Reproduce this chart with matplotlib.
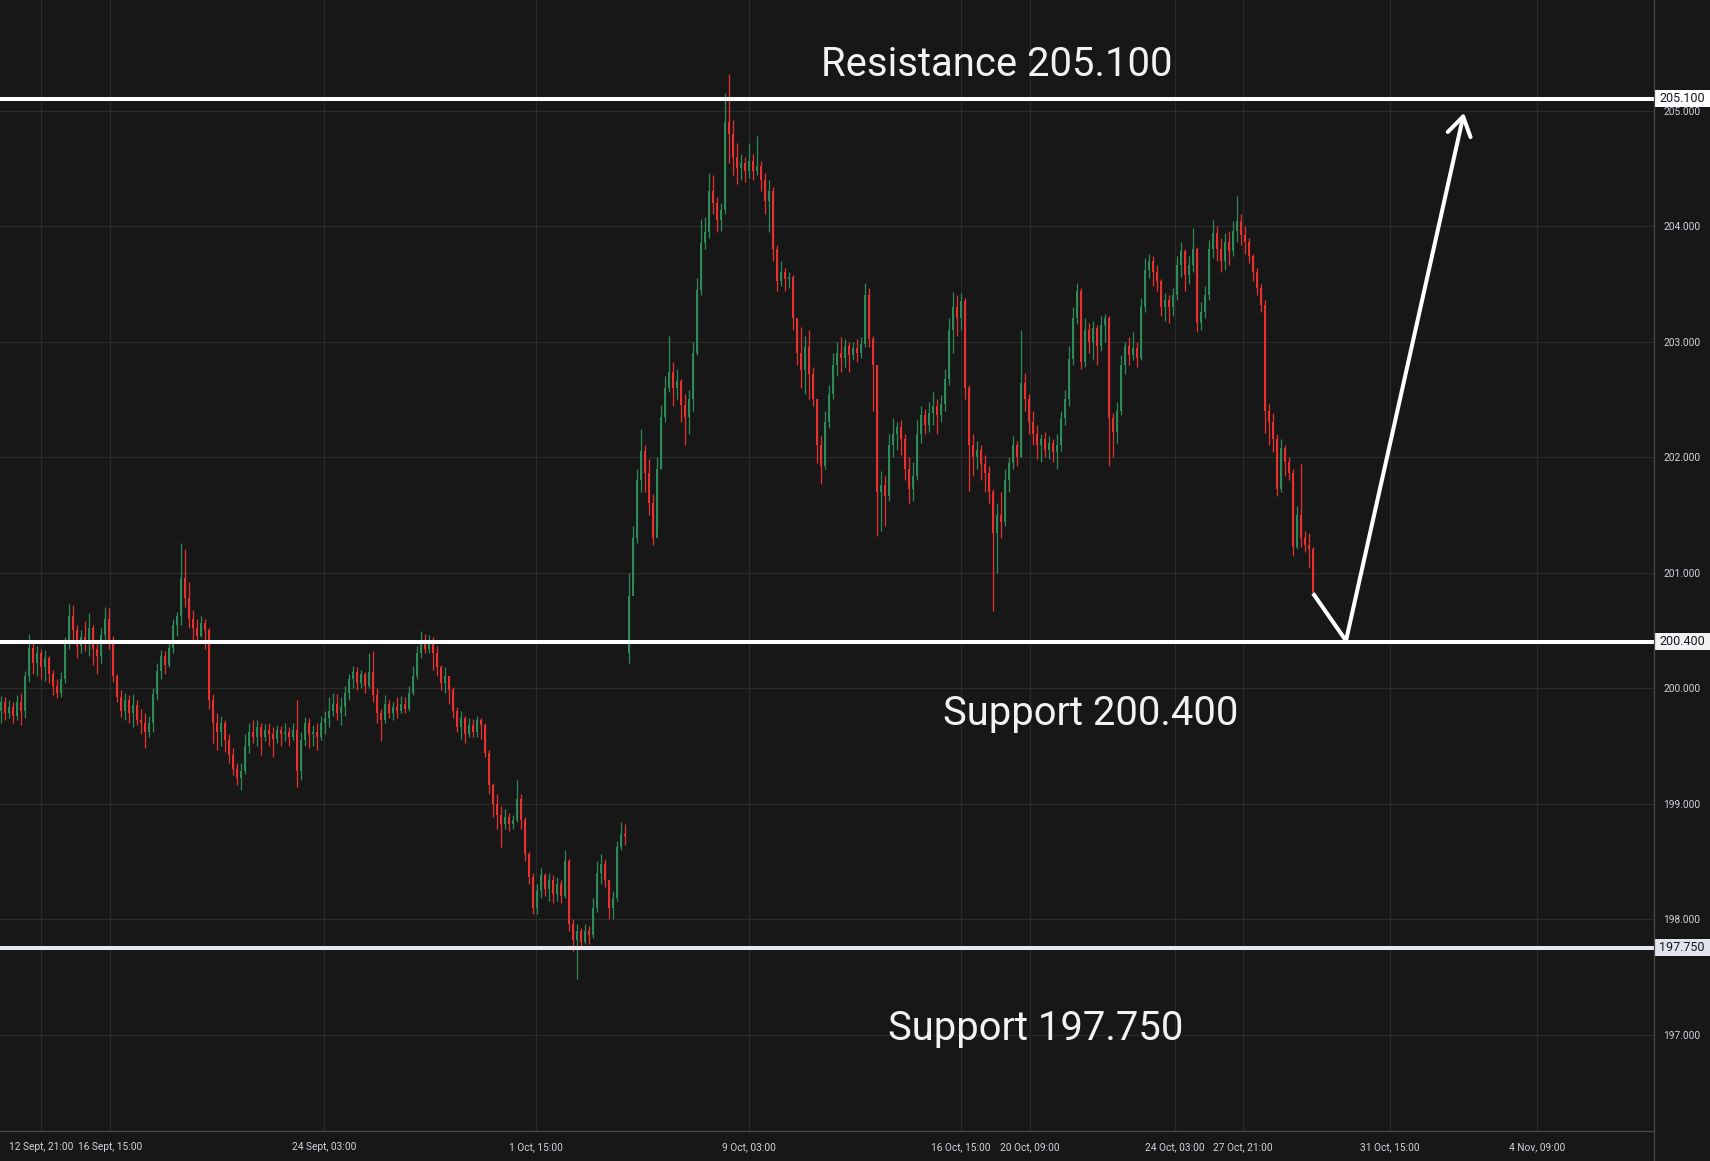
import matplotlib
matplotlib.use("Agg")
import matplotlib.pyplot as plt
from matplotlib.patches import Rectangle, FancyArrowPatch
from matplotlib.lines import Line2D
from matplotlib.transforms import blended_transform_factory
import numpy as np

# ---------------- data (2h candles) ----------------
first_open = 199.80
gap_bar = 157          # weekend gap bar
gap_open = 200.30

closes = [
    199.88, 199.78, 199.84, 199.76, 199.88, 199.80, 200.10, 200.35, 200.22, 200.30,
    200.18, 200.26, 200.12, 200.02, 199.96, 200.08, 200.38, 200.62, 200.50, 200.36,
    200.44, 200.40, 200.52, 200.34, 200.28, 200.46, 200.60, 200.42, 200.10, 199.92,
    199.80, 199.90, 199.78, 199.85, 199.72, 199.70, 199.62, 199.70, 199.95, 200.15,
    200.28, 200.20, 200.35, 200.55, 200.62, 200.95, 200.78, 200.60, 200.52, 200.45,
    200.56, 200.50, 199.90, 199.70, 199.62, 199.70, 199.55, 199.42, 199.30, 199.22,
    199.28, 199.50, 199.62, 199.58, 199.66, 199.58, 199.64, 199.60, 199.56, 199.64,
    199.60, 199.62, 199.58, 199.64, 199.28, 199.55, 199.70, 199.60, 199.62, 199.58,
    199.70, 199.74, 199.80, 199.86, 199.78, 199.84, 199.96, 200.08, 200.14, 200.04,
    200.12, 200.02, 200.14, 199.94, 199.78, 199.72, 199.86, 199.78, 199.84, 199.80,
    199.86, 199.82, 199.96, 200.10, 200.30, 200.42, 200.34, 200.40, 200.30, 200.18,
    200.04, 200.10, 199.98, 199.80, 199.66, 199.74, 199.60, 199.68, 199.62, 199.72,
    199.68, 199.44, 199.16, 199.00, 198.90, 198.82, 198.88, 198.82, 198.86, 199.04,
    198.86, 198.56, 198.36, 198.10, 198.24, 198.38, 198.26, 198.34, 198.22, 198.30,
    198.20, 198.50, 197.96, 197.82, 197.90, 197.80, 197.90, 197.86, 198.10, 198.40,
    198.48, 198.34, 198.10, 198.18, 198.62, 198.74, 198.72, 200.80, 201.30, 201.80,
    202.05, 201.86, 201.60, 201.30, 201.90, 202.35, 202.60, 202.74, 202.60, 202.66,
    202.45, 202.35, 202.50, 202.90, 203.45, 203.85, 203.95, 204.30, 204.20, 204.05,
    204.14, 204.90, 204.80, 204.60, 204.50, 204.55, 204.48, 204.56, 204.48, 204.52,
    204.40, 204.22, 204.30, 203.80, 203.52, 203.60, 203.54, 203.56, 203.20, 202.90,
    202.75, 202.95, 202.72, 202.50, 202.10, 201.92, 202.30, 202.55, 202.80, 202.90,
    202.86, 202.96, 202.88, 202.94, 202.90, 202.98, 203.40, 203.02, 202.80, 201.70,
    201.76, 201.66, 202.10, 202.20, 202.26, 202.16, 201.90, 201.72, 201.84, 202.20,
    202.36, 202.28, 202.38, 202.44, 202.36, 202.46, 202.68, 203.10, 203.30, 203.20,
    203.35, 202.60, 202.10, 202.00, 202.06, 201.94, 201.86, 201.70, 201.34, 201.50,
    201.44, 201.80, 201.95, 202.10, 202.00, 202.64, 202.50, 202.30, 202.20, 202.10,
    202.16, 202.06, 202.12, 202.04, 202.10, 202.34, 202.50, 202.85, 203.20, 203.44,
    202.82, 203.10, 203.00, 203.12, 202.96, 203.14, 203.20, 202.34, 202.22, 202.40,
    202.80, 202.96, 202.88, 202.94, 202.86, 203.30, 203.62, 203.70, 203.60, 203.52,
    203.30, 203.36, 203.30, 203.40, 203.66, 203.78, 203.58, 203.66, 203.80, 203.16,
    203.26, 203.40, 203.80, 203.94, 203.80, 203.70, 203.86, 203.78, 203.96, 204.04,
    203.92, 203.86, 203.74, 203.60, 203.46, 203.32, 202.40, 202.30, 202.16, 201.72,
    202.08, 201.96, 201.86, 201.22, 201.50, 201.30, 201.24, 201.20, 200.82,
]

highs = [
    199.93, 199.92, 199.90, 199.88, 199.94, 199.96, 200.15, 200.47, 200.40, 200.36,
    200.34, 200.33, 200.28, 200.16, 200.08, 200.14, 200.44, 200.73, 200.72, 200.55,
    200.50, 200.58, 200.65, 200.55, 200.40, 200.52, 200.70, 200.69, 200.45, 200.12,
    199.98, 199.96, 199.94, 199.95, 199.90, 199.82, 199.78, 199.76, 200.00, 200.22,
    200.33, 200.32, 200.40, 200.60, 200.66, 201.26, 201.20, 200.92, 200.68, 200.60,
    200.62, 200.60, 200.52, 199.95, 199.78, 199.76, 199.72, 199.60, 199.48, 199.35,
    199.35, 199.60, 199.70, 199.72, 199.72, 199.70, 199.69, 199.70, 199.66, 199.68,
    199.67, 199.70, 199.66, 199.70, 199.90, 199.62, 199.75, 199.74, 199.68, 199.70,
    199.76, 199.80, 199.92, 199.96, 199.95, 199.92, 200.02, 200.12, 200.19, 200.18,
    200.16, 200.14, 200.30, 200.32, 200.00, 199.82, 199.94, 199.90, 199.88, 199.92,
    199.93, 199.92, 200.02, 200.19, 200.36, 200.49, 200.47, 200.46, 200.44, 200.36,
    200.20, 200.18, 200.10, 200.01, 199.84, 199.80, 199.76, 199.74, 199.73, 199.76,
    199.74, 199.70, 199.46, 199.18, 199.08, 198.98, 198.95, 198.92, 198.90, 199.20,
    199.08, 198.88, 198.58, 198.40, 198.30, 198.44, 198.40, 198.40, 198.38, 198.36,
    198.34, 198.60, 198.52, 198.00, 197.96, 197.92, 197.96, 197.94, 198.18, 198.50,
    198.56, 198.52, 198.34, 198.24, 198.68, 198.84, 198.82, 201.00, 201.40, 201.90,
    202.24, 202.10, 201.98, 201.68, 202.00, 202.45, 202.70, 203.05, 202.82, 202.76,
    202.68, 202.55, 202.58, 203.00, 203.55, 204.06, 204.08, 204.46, 204.44, 204.25,
    204.20, 205.15, 205.32, 204.92, 204.72, 204.62, 204.60, 204.72, 204.62, 204.78,
    204.56, 204.46, 204.40, 204.34, 203.84, 203.70, 203.64, 203.60, 203.58, 203.20,
    203.13, 203.05, 203.10, 202.78, 202.50, 202.18, 202.40, 202.62, 202.90, 203.00,
    203.04, 203.02, 203.00, 203.00, 203.02, 203.04, 203.51, 203.46, 203.05, 202.80,
    201.88, 201.84, 202.20, 202.34, 202.30, 202.32, 202.20, 202.00, 201.96, 202.32,
    202.44, 202.42, 202.48, 202.56, 202.50, 202.54, 202.76, 203.20, 203.43, 203.40,
    203.42, 203.38, 202.62, 202.20, 202.14, 202.10, 202.02, 201.92, 201.72, 201.60,
    201.70, 201.90, 202.00, 202.18, 202.14, 203.10, 202.73, 202.55, 202.40, 202.28,
    202.20, 202.22, 202.18, 202.16, 202.20, 202.40, 202.58, 202.96, 203.30, 203.51,
    203.46, 203.20, 203.16, 203.18, 203.14, 203.22, 203.24, 203.22, 202.38, 202.48,
    202.88, 203.00, 203.04, 203.08, 203.00, 203.38, 203.72, 203.76, 203.74, 203.66,
    203.54, 203.42, 203.40, 203.46, 203.74, 203.86, 203.80, 203.74, 203.98, 203.82,
    203.34, 203.48, 203.88, 204.05, 204.00, 203.90, 203.94, 203.96, 204.04, 204.26,
    204.10, 204.00, 203.90, 203.76, 203.64, 203.50, 203.36, 202.46, 202.38, 202.20,
    202.16, 202.10, 202.00, 201.90, 201.58, 201.94, 201.36, 201.34, 201.22,
]

lows = [
    199.70, 199.72, 199.74, 199.70, 199.72, 199.68, 199.74, 200.05, 200.12, 200.10,
    200.08, 200.06, 200.04, 199.94, 199.91, 199.92, 200.04, 200.34, 200.40, 200.26,
    200.30, 200.32, 200.28, 200.20, 200.12, 200.22, 200.40, 200.34, 200.05, 199.88,
    199.75, 199.72, 199.70, 199.66, 199.68, 199.60, 199.48, 199.58, 199.62, 199.90,
    200.08, 200.12, 200.18, 200.30, 200.45, 200.55, 200.70, 200.52, 200.40, 200.38,
    200.44, 200.34, 199.82, 199.52, 199.46, 199.50, 199.45, 199.35, 199.25, 199.16,
    199.12, 199.26, 199.44, 199.52, 199.50, 199.42, 199.54, 199.50, 199.40, 199.52,
    199.50, 199.54, 199.50, 199.55, 199.14, 199.20, 199.50, 199.48, 199.50, 199.46,
    199.55, 199.60, 199.66, 199.76, 199.72, 199.68, 199.76, 199.90, 200.00, 199.98,
    200.00, 199.96, 200.00, 199.88, 199.70, 199.54, 199.70, 199.74, 199.72, 199.74,
    199.78, 199.78, 199.80, 199.94, 200.08, 200.26, 200.30, 200.30, 200.16, 200.10,
    199.98, 199.96, 199.86, 199.74, 199.62, 199.56, 199.52, 199.58, 199.58, 199.58,
    199.56, 199.40, 199.08, 198.88, 198.78, 198.62, 198.78, 198.76, 198.78, 198.84,
    198.78, 198.50, 198.30, 198.04, 198.04, 198.18, 198.20, 198.16, 198.14, 198.16,
    198.14, 198.18, 197.90, 197.72, 197.48, 197.74, 197.78, 197.78, 197.84, 198.06,
    198.30, 198.28, 198.00, 198.00, 198.16, 198.60, 198.64, 200.22, 200.90, 201.26,
    201.70, 201.70, 201.50, 201.24, 201.40, 201.90, 202.30, 202.56, 202.44, 202.50,
    202.30, 202.10, 202.20, 202.40, 202.88, 203.40, 203.80, 203.90, 204.10, 203.95,
    203.96, 204.10, 204.55, 204.44, 204.36, 204.40, 204.38, 204.42, 204.40, 204.44,
    204.30, 204.10, 203.95, 203.70, 203.44, 203.48, 203.44, 203.46, 203.10, 202.80,
    202.60, 202.55, 202.50, 202.44, 201.95, 201.77, 201.90, 202.25, 202.50, 202.70,
    202.74, 202.78, 202.74, 202.84, 202.82, 202.86, 202.95, 202.95, 202.40, 201.32,
    201.36, 201.40, 201.62, 202.00, 202.06, 202.02, 201.80, 201.60, 201.62, 201.80,
    202.12, 202.20, 202.22, 202.28, 202.20, 202.30, 202.40, 202.62, 202.90, 203.05,
    203.10, 202.50, 201.71, 201.84, 201.90, 201.80, 201.70, 201.60, 200.67, 201.00,
    201.30, 201.40, 201.70, 201.90, 201.92, 202.00, 202.40, 202.20, 202.10, 201.98,
    201.96, 202.00, 201.98, 201.96, 201.90, 202.05, 202.28, 202.44, 202.80, 203.15,
    202.76, 202.78, 202.90, 202.84, 202.80, 202.92, 203.00, 201.92, 202.00, 202.12,
    202.36, 202.72, 202.80, 202.84, 202.78, 202.84, 203.26, 203.55, 203.48, 203.44,
    203.22, 203.18, 203.16, 203.22, 203.36, 203.56, 203.44, 203.50, 203.60, 203.08,
    203.10, 203.20, 203.36, 203.72, 203.70, 203.60, 203.62, 203.66, 203.74, 203.86,
    203.84, 203.76, 203.68, 203.52, 203.40, 203.26, 202.21, 202.10, 202.04, 201.66,
    201.70, 201.84, 201.80, 201.14, 201.20, 201.22, 201.18, 201.04, 200.80,
]

price_ticks = [197, 198, 199, 200, 201, 202, 203, 204, 205]

time_labels = ["12 Sept, 21:00", "16 Sept, 15:00", "24 Sept, 03:00", "1 Oct, 15:00",
               "9 Oct, 03:00", "16 Oct, 15:00", "20 Oct, 09:00", "24 Oct, 03:00",
               "27 Oct, 21:00", "31 Oct, 15:00", "4 Nov, 09:00"]
time_label_bars = [10.0, 27.25, 80.75, 133.75, 187.0, 240.0, 257.25, 293.5, 310.5, 347.25, 384.0]

level_prices = [205.100, 200.400, 197.750]
level_labels = ["205.100", "200.400", "197.750"]
level_line_colors = ["#ffffff", "#ffffff", "#e6e8ef"]
level_box_colors = ["#ffffff", "#f2f2f2", "#e1e4ec"]

note_texts = ["Resistance 205.100", "Support 200.400", "Support 197.750"]
note_bars = [249.0, 272.5, 258.75]
note_prices = [205.40, 199.78, 197.055]

proj_bar_offsets = [0, 8.25, 37.75]
proj_prices = [200.82, 200.41, 204.98]

# ---------------- style ----------------
BG = "#171717"
GRID = "#2a2a2a"
UP = "#2e8b57"
DOWN = "#e8302f"
AXTXT = "#d1d4dc"
FONT = ["Roboto", "DejaVu Sans"]
plt.rcParams["font.family"] = FONT

W, H = 1710, 1161
PLOT_W, PLOT_H = 1654, 1131
PX_PER_BAR = 4.0

fig = plt.figure(figsize=(W / 100, H / 100), dpi=100, facecolor=BG)
ax = fig.add_axes([0, (H - PLOT_H) / H, PLOT_W / W, PLOT_H / H], facecolor=BG)

y_top = 205.957
y_bot = 196.165
ax.set_ylim(y_bot, y_top)
ax.set_xlim(-0.25, -0.25 + PLOT_W / PX_PER_BAR)

for s in ax.spines.values():
    s.set_visible(False)

ax.set_yticks(price_ticks)
ax.set_yticklabels([f"{p:.3f}" for p in price_ticks])
ax.yaxis.tick_right()
ax.tick_params(axis="y", length=0, pad=6.5, labelsize=7.3, labelcolor=AXTXT)
ax.set_xticks(time_label_bars)
ax.set_xticklabels(time_labels)
ax.tick_params(axis="x", length=0, pad=8, labelsize=7.3, labelcolor=AXTXT)
ax.grid(True, color=GRID, linewidth=0.8)

# ---------------- candles ----------------
n = len(closes)
x = np.arange(n)
c = np.array(closes)
h = np.array(highs)
l = np.array(lows)
o = np.concatenate([[first_open], c[:-1]])
o[gap_bar] = gap_open
up = c >= o
cols = np.where(up, UP, DOWN)

ax.vlines(x, l, h, colors=cols, linewidth=0.9, zorder=3)
body_bot = np.minimum(o, c)
body_h = np.maximum(np.abs(c - o), 0.012)
ax.bar(x, body_h, bottom=body_bot, width=0.62, color=cols, linewidth=0, zorder=4)

# ---------------- levels ----------------
trans = blended_transform_factory(ax.transAxes, ax.transData)
box_h = 17 / (PLOT_H / (y_top - y_bot))
box_w = (W - PLOT_W) / PLOT_W
for p, lab, lc, bc in zip(level_prices, level_labels, level_line_colors, level_box_colors):
    ax.axhline(p, color=lc, linewidth=2.9, zorder=5)
    ax.add_patch(Rectangle((1.0, p - box_h / 2), box_w, box_h, transform=trans,
                           facecolor=bc, edgecolor="none", clip_on=False, zorder=10))
    ax.text(1.0 + box_w / 2, p, lab, transform=trans, ha="center", va="center",
            fontsize=9.0, color="#131722", clip_on=False, zorder=11)

for t, bx, py in zip(note_texts, note_bars, note_prices):
    ax.text(bx, py, t, ha="center", va="center", fontsize=28.8, color="#f2f2f2", zorder=12)

# ---------------- projection arrow ----------------
last = n - 1
px = [last + d for d in proj_bar_offsets]
ax.plot(px[:2], proj_prices[:2], color="white", linewidth=2.9, solid_capstyle="butt", zorder=6)
arr = FancyArrowPatch((px[1], proj_prices[1]), (px[2], proj_prices[2]),
                      arrowstyle="->,head_length=0.95,head_width=0.6", mutation_scale=14,
                      color="white", linewidth=2.9, shrinkA=0, shrinkB=0, zorder=6)
ax.add_patch(arr)

# ---------------- frame separators ----------------
fig.add_artist(Line2D([PLOT_W / W, PLOT_W / W], [0, 1], transform=fig.transFigure,
                      color="#4a4a4a", linewidth=0.9))
fig.add_artist(Line2D([0, PLOT_W / W], [(H - PLOT_H) / H] * 2, transform=fig.transFigure,
                      color="#4a4a4a", linewidth=0.9))

fig.savefig("out.png", dpi=100, facecolor=BG)
